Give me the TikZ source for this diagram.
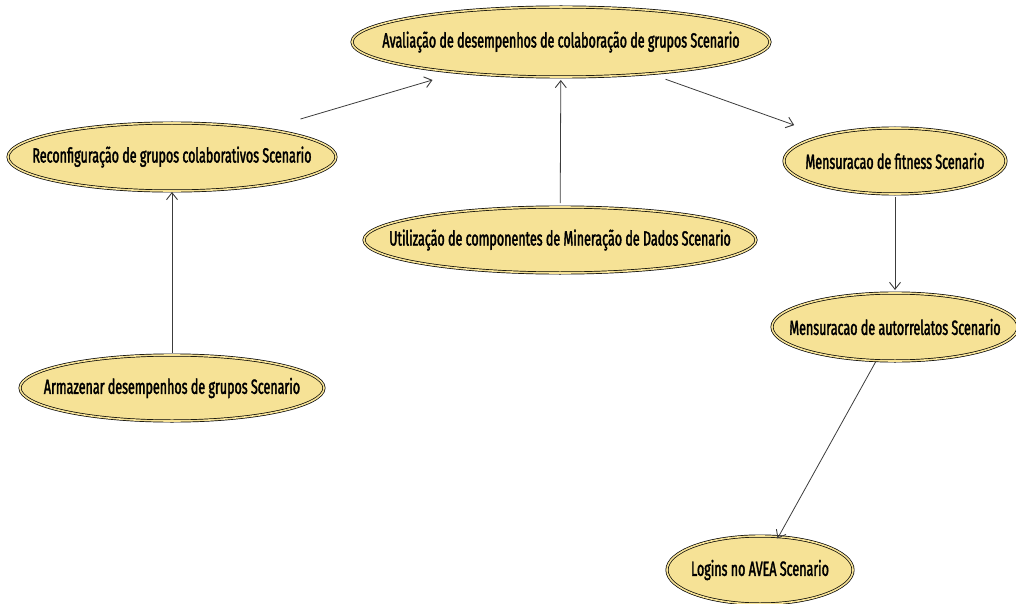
\documentclass[tikz,border=0pt]{standalone}
\usepackage{fontspec}
\newfontfamily\lblfont{Fira Sans}[FakeStretch=0.61, FakeBold=1.8]
\usetikzlibrary{shapes.geometric,arrows.meta}
\definecolor{ucfill}{RGB}{246,226,150}
\definecolor{arrgray}{RGB}{60,60,60}
% label set in a zero-width box so the ellipse size comes only from its minimum size
\newcommand{\uclabel}[1]{\makebox[0pt]{#1}}
\begin{document}
\begin{tikzpicture}[x=1pt,y=-1pt,
  usecase/.style={ellipse, draw=black, line width=0.7pt, double=ucfill,
    double distance=1.6pt, fill=ucfill, inner sep=0pt,
    font=\lblfont\fontsize{20.5}{22}\selectfont, text=black},
  arr/.style={draw=arrgray, line width=0.8pt,
    -{Straight Barb[length=7pt,width=11pt,line width=0.9pt]}}]
\useasboundingbox (0,0) rectangle (1016,604);

% use cases
\node[usecase, minimum width=418pt, minimum height=70pt] (ava) at (561,42)
  {\uclabel{Avaliação de desempenhos de colaboração de grupos Scenario}};
\node[usecase, minimum width=328pt, minimum height=68pt] (rec) at (172,157)
  {\uclabel{Reconfiguração de grupos colaborativos Scenario}};
\node[usecase, minimum width=392pt, minimum height=66pt] (uti) at (560,240)
  {\uclabel{Utilização de componentes de Mineração de Dados Scenario}};
\node[usecase, minimum width=222pt, minimum height=66pt] (fit) at (895,161)
  {\uclabel{Mensuracao de fitness Scenario}};
\node[usecase, minimum width=304pt, minimum height=66pt] (arm) at (172,388)
  {\uclabel{Armazenar desempenhos de grupos Scenario}};
\node[usecase, minimum width=246pt, minimum height=68pt] (aut) at (895,327)
  {\uclabel{Mensuracao de autorrelatos Scenario}};
\node[usecase, minimum width=186pt, minimum height=68pt] (log) at (760,570)
  {\uclabel{Logins no AVEA Scenario}};

% dependencies
\draw[arr, shorten <=134pt, shorten >=134pt] (rec.center) -- (ava.center);
\draw[arr, shorten <=37pt, shorten >=38pt] (uti.center) -- (ava.center);
\draw[arr, shorten <=111pt, shorten >=107pt] (ava.center) -- (fit.center);
\draw[arr, shorten <=36pt, shorten >=37pt] (fit.center) -- (aut.center);
\draw[arr, shorten <=35pt, shorten >=35pt] (arm.center) -- (rec.center);
\draw[arr, shorten <=40pt, shorten >=36pt] (aut.center) -- (log.center);
\end{tikzpicture}
\end{document}
